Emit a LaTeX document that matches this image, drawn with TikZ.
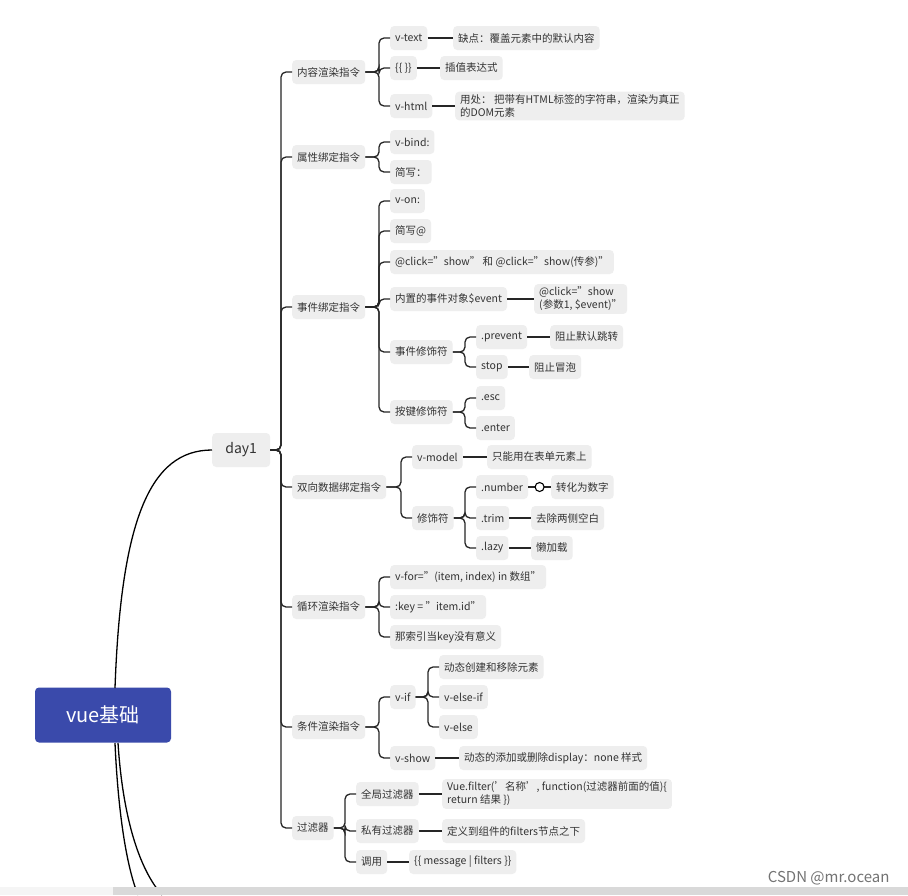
\documentclass[tikz,border=0pt]{standalone}
\usepackage{fontspec}
\usetikzlibrary{calc}
\setmainfont{Noto Sans CJK SC}
\begin{document}
\begin{tikzpicture}[x=1pt,y=-1pt,
  n/.style={fill=nodegray,rounded corners=4pt,minimum height=24pt,inner xsep=5pt,inner ysep=3pt,anchor=west,text=txt,font=\fontsize{10.5}{13}\selectfont,align=left},
  br/.style={draw=black!85,line width=1.3pt,rounded corners=5pt}]
\definecolor{nodegray}{HTML}{EEEEEE}
\definecolor{txt}{HTML}{333333}
\definecolor{rootblue}{HTML}{3A4AAB}
\useasboundingbox (0,0) rectangle (908,895);
\fill[white] (0,0) rectangle (908,895);
% root
\node[fill=rootblue,rounded corners=4pt,minimum width=136pt,minimum height=55pt,text=white,font=\fontsize{20}{24}\selectfont] (root) at (103,715) {vue基础};
\node[n,font=\fontsize{14}{17}\selectfont,minimum height=34pt,minimum width=58pt,align=center] (day1) at (212,450) {day1};
\draw[line width=1.3pt] (115,688) .. controls (121,520) and (150,450) .. (day1.west);
\draw[line width=1.3pt] (115,743) .. controls (118,810) and (126,865) .. (138,895);
\draw[line width=1.3pt] (118,743) .. controls (123,820) and (140,870) .. (162,895);
% level 1
\node[n] (a) at (292,72) {内容渲染指令};
\node[n] (b) at (292,157) {属性绑定指令};
\node[n] (c) at (292,307) {事件绑定指令};
\node[n] (d) at (292,487) {双向数据绑定指令};
\node[n] (e) at (292,607) {循环渲染指令};
\node[n] (f) at (292,727) {条件渲染指令};
\node[n] (g) at (292,828) {过滤器};
\foreach \k in {a,b,c,d,e,f,g}{\draw[br] (day1.east) -| ([xshift=-11pt]\k.west) -- (\k.west);}
% a
\node[n] (a1) at (390,38) {v-text};
\node[n] (a2) at (390,68) {\{\{ \}\}};
\node[n] (a3) at (390,106) {v-html};
\node[n] (a1x) at (453,38) {缺点：覆盖元素中的默认内容};
\node[n] (a2x) at (440,68) {插值表达式};
\node[n] (a3x) at (455,106) {用处： 把带有HTML标签的字符串，渲染为真正\\的DOM元素};
% b
\node[n] (b1) at (390,142) {v-bind:};
\node[n] (b2) at (390,172) {简写：};
% c
\node[n] (c1) at (390,201) {v-on:};
\node[n] (c2) at (390,231) {简写@};
\node[n] (c3) at (390,262) {@click="show" 和 @click="show(传参)"};
\node[n] (c4) at (390,299) {内置的事件对象\$event};
\node[n] (c4x) at (534,299) {@click="show\\(参数1, \$event)"};
\node[n] (c5) at (390,352) {事件修饰符};
\node[n] (c51) at (476,337) {.prevent};
\node[n] (c51x) at (550,337) {阻止默认跳转};
\node[n] (c52) at (476,367) {stop};
\node[n] (c52x) at (529,367) {阻止冒泡};
\node[n] (c6) at (390,412) {按键修饰符};
\node[n] (c61) at (476,398) {.esc};
\node[n] (c62) at (476,428) {.enter};
% d
\node[n] (d1) at (412,457) {v-model};
\node[n] (d1x) at (487,457) {只能用在表单元素上};
\node[n] (d2) at (412,518) {修饰符};
\node[n] (d21) at (476,487) {.number};
\node[n] (d21x) at (551,487) {转化为数字};
\node[n] (d22) at (476,518) {.trim};
\node[n] (d22x) at (531,518) {去除两侧空白};
\node[n] (d23) at (476,548) {.lazy};
\node[n] (d23x) at (531,548) {懒加载};
% e
\node[n] (e1) at (390,577) {v-for="(item, index) in 数组"};
\node[n] (e2) at (390,607) {:key = "item.id"};
\node[n] (e3) at (390,637) {那索引当key没有意义};
% f
\node[n] (f1) at (390,697) {v-if};
\node[n] (f11) at (439,667) {动态创建和移除元素};
\node[n] (f12) at (439,697) {v-else-if};
\node[n] (f13) at (439,727) {v-else};
\node[n] (f2) at (390,758) {v-show};
\node[n] (f2x) at (459,758) {动态的添加或删除display：none 样式};
% g
\node[n] (g1) at (356,794) {全局过滤器};
\node[n] (g1x) at (442,794) {Vue.filter('名称', function(过滤器前面的值)\{\\return 结果 \})};
\node[n] (g2) at (356,831) {私有过滤器};
\node[n] (g2x) at (442,831) {定义到组件的filters节点之下};
\node[n] (g3) at (356,862) {调用};
\node[n] (g3x) at (409,862) {\{\{ message | filters \}\}};
% branches
\foreach \p/\cs in {a/{a1,a2,a3},b/{b1,b2},c/{c1,c2,c3,c4,c5,c6},c5/{c51,c52},c6/{c61,c62},d/{d1,d2},d2/{d21,d22,d23},e/{e1,e2,e3},f/{f1,f2},f1/{f11,f12,f13},g/{g1,g2,g3}}{
  \foreach \q in \cs {\draw[br] (\p.east) -| ([xshift=-11pt]\q.west) -- (\q.west);}}
\foreach \p/\q in {a1/a1x,a2/a2x,a3/a3x,c4/c4x,c51/c51x,c52/c52x,d1/d1x,d22/d22x,d23/d23x,f2/f2x,g1/g1x,g2/g2x,g3/g3x}{\draw[br] (\p.east) -- (\q.west);}
\draw[br] (d21.east) -- (d21x.west);
\draw[line width=1.1pt,fill=white] ($(d21.east)!0.5!(d21x.west)$) circle (4.5pt);
% bottom bar and watermark
\fill[black!4] (0,887) rectangle (113,895);
\fill[black!15] (113,887) rectangle (908,895);
\node[text=black!55,font=\fontsize{15}{18}\selectfont,anchor=east] (wm) at (893,878) {CSDN @mr.ocean};
\end{tikzpicture}
\end{document}
